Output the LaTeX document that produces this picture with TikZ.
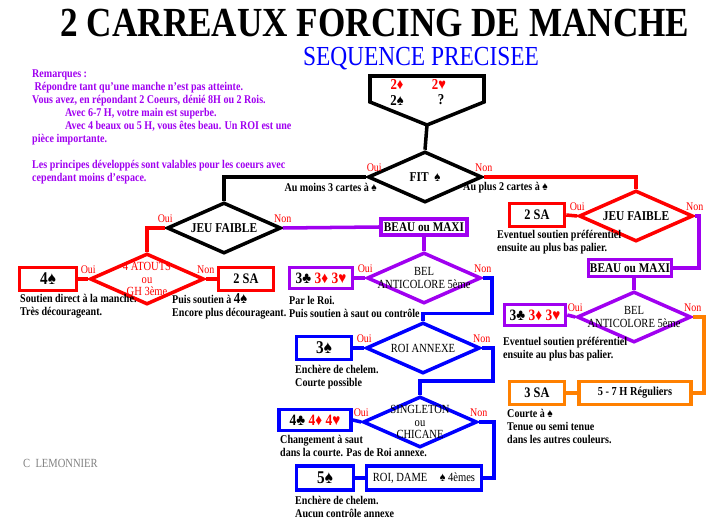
\documentclass[tikz,border=0pt]{standalone}
\usepackage{fontspec}
\setmainfont[FakeStretch=0.85]{Liberation Serif}
\usepackage{tikz}
\usetikzlibrary{shapes.geometric,positioning,calc}
\definecolor{CarRouge}{HTML}{FF0000}
\definecolor{CarViolet}{HTML}{A000F0}
\definecolor{CarBleu}{HTML}{0000FF}
\definecolor{CarOrange}{HTML}{FF8000}
\definecolor{CarGris}{HTML}{808080}
\newcommand{\pique}{♠}
\newcommand{\trefle}{♣}
\newcommand{\carreau}{♦}
\newcommand{\coeur}{♥}

\begin{document}
\begin{tikzpicture}[x=0.3mm, y=-0.3mm,
  every node/.style={font=\bfseries\fontsize{10.1}{11}\selectfont},
  boite/.style={draw, line width=3pt, fill=white, inner sep=1pt, align=center,
                minimum width=16.5mm, minimum height=6.9mm, font=\bfseries\fontsize{12.4}{13}\selectfont},
  carte/.style={boite, font=\bfseries\fontsize{15.3}{16}\selectfont},
  triple/.style={boite, minimum height=6.3mm, font=\bfseries\fontsize{13.5}{14}\selectfont},
  losange/.style={diamond, draw, line width=3pt, inner sep=0pt,
                  minimum width=34.2mm, minimum height=15.3mm},
  dtxt/.style={align=center, inner sep=0pt, font=\fontsize{10.6}{10.6}\selectfont},
  dgras/.style={dtxt, font=\bfseries\fontsize{11.5}{12}\selectfont},
  note/.style={anchor=north west, align=left, inner sep=0pt},
  oui/.style={text=CarRouge, anchor=south, inner sep=0pt, yshift=1.5mm, font=\fontsize{10}{10}\selectfont},
  enchere/.style={font=\bfseries\fontsize{12.9}{13}\selectfont},
  lien/.style={line width=3pt},
]
\useasboundingbox (0,0) rectangle (725,525);

\node[anchor=base, font=\bfseries\fontsize{35.3}{36}\selectfont] (titre) at (375,37) {2 CARREAUX FORCING DE MANCHE};
\node[anchor=base, text=CarBleu, font=\fontsize{23.5}{24}\selectfont] (soustitre) at (421,66) {SEQUENCE PRECISEE};

\node[note, text=CarViolet] (remarques) at (32,70) {Remarques :\\
  \hspace*{2pt}Répondre tant qu'une manche n'est pas atteinte.\\
  Vous avez, en répondant 2 Coeurs, dénié 8H ou 2 Rois.\\
  \hspace*{28pt}Avec 6-7 H, votre main est superbe.\\
  \hspace*{28pt}Avec 4 beaux ou 5 H, vous êtes beau. Un ROI est une\\
  pièce importante.\\[11pt]
  Les principes développés sont valables pour les coeurs avec\\
  cependant moins d'espace.};

\coordinate (depart) at (427,125);
\draw[lien] (370,76) -- (484,76) -- (484,102) -- (depart) -- (370,102) -- cycle;
\node[enchere, text=CarRouge] (ouv1) at (397,85) {2\carreau};
\node[enchere, text=CarRouge] (ouv2) at (439,85) {2\coeur};
\node[enchere] (rep1) at (397,100) {2\pique};
\node[enchere] (rep2) at (441,100) {?};

\node[losange, label={[dgras]center:FIT\ \ \pique}] (fit) at (425,177) {};
\node[losange, label={[dgras]center:JEU FAIBLE}] (jf1) at (224,228) {};
\node[losange, label={[dgras]center:JEU FAIBLE}, draw=CarRouge] (jf2) at (636,216) {};
\node[losange, label={[dtxt, text=CarRouge]center:4 ATOUTS\\ou\\GH 3ème}, draw=CarRouge] (a4) at (147,279) {};
\node[losange, label={[dtxt]center:BEL\\ANTICOLORE 5ème}, draw=CarViolet] (bel1) at (424,278) {};
\node[losange, label={[dtxt]center:BEL\\ANTICOLORE 5ème}, draw=CarViolet] (bel2) at (634,317) {};
\node[losange, label={[dtxt]center:ROI ANNEXE}, draw=CarBleu] (roi) at (423,348) {};
\node[losange, label={[dtxt]center:SINGLETON\\ou\\CHICANE}, draw=CarBleu] (sing) at (420,422) {};

\node[carte, draw=CarRouge, minimum width=17.1mm] (s4) at (48,279) {4\pique};
\node[boite, draw=CarRouge] (sa1) at (246,279) {2 SA};
\node[boite, draw=CarRouge] (sa2) at (537,215) {2 SA};
\node[boite, draw=CarViolet, minimum width=25.8mm, minimum height=4.8mm,
      font=\bfseries\fontsize{11.3}{12}\selectfont] (bm1) at (424,227) {BEAU ou MAXI};
\node[boite, draw=CarViolet, minimum width=24.9mm, minimum height=5.1mm,
      font=\bfseries\fontsize{11.3}{12}\selectfont] (bm2) at (630,268) {BEAU ou MAXI};
\node[triple, draw=CarViolet, minimum width=18.9mm] (c3a) at (321,278) {3\trefle\ \textcolor{CarRouge}{3\carreau\ 3\coeur}};
\node[triple, draw=CarViolet, minimum width=18.3mm] (c3b) at (535,315) {3\trefle\ \textcolor{CarRouge}{3\carreau\ 3\coeur}};
\node[carte, draw=CarBleu] (s3) at (324,348) {3\pique};
\node[triple, draw=CarBleu, minimum width=21.6mm] (c4) at (315,420) {4\trefle\ \textcolor{CarRouge}{4\carreau\ 4\coeur}};
\node[carte, draw=CarBleu, minimum width=17.1mm, minimum height=7.2mm] (s5) at (325,478) {5\pique};
\node[boite, draw=CarBleu, minimum width=34.5mm, minimum height=7.2mm,
      font=\fontsize{10.6}{11}\selectfont] (rd) at (424,478) {ROI, DAME\quad\pique\ 4èmes};
\node[boite, draw=CarOrange] (sa3) at (537,393) {3 SA};
\node[boite, draw=CarOrange, minimum width=33.6mm,
      font=\bfseries\fontsize{10.4}{11}\selectfont] (r57) at (635,393) {5 - 7 H Réguliers};

\node[oui, xshift=2.4mm] (fitoui) at (fit.west) {Oui};
\node[oui] (fitnon) at (fit.east) {Non};
\node[oui] (jf1oui) at (jf1.west) {Oui};
\node[oui] (jf1non) at (jf1.east) {Non};
\node[oui] (jf2oui) at (jf2.west) {Oui};
\node[oui] (jf2non) at (jf2.east) {Non};
\node[oui] (a4oui) at (a4.west) {Oui};
\node[oui] (a4non) at (a4.east) {Non};
\node[oui] (bel1oui) at (bel1.west) {Oui};
\node[oui] (bel1non) at (bel1.east) {Non};
\node[oui] (bel2oui) at (bel2.west) {Oui};
\node[oui] (bel2non) at (bel2.east) {Non};
\node[oui] (roioui) at (roi.west) {Oui};
\node[oui] (roinon) at (roi.east) {Non};
\node[oui] (singoui) at (sing.west) {Oui};
\node[oui] (singnon) at (sing.east) {Non};

\node[anchor=north east, inner sep=0pt] (moins) at (377,183) {Au moins 3 cartes à \pique};
\node[note] (plus) at (463,182) {Au plus 2 cartes à \pique};
\node[note] (n4s) at (20,294) {Soutien direct à la manche.\\Très décourageant.};
\node[note] (nsa1) at (172,293) {Puis soutien à {\fontsize{12.9}{13}\selectfont 4\pique}\\Encore plus décourageant.};
\node[note] (nc3a) at (289,296) {Par le Roi.\\Puis soutien à saut ou contrôle};
\node[note] (nsa2) at (497,230) {Eventuel soutien préférentiel\\ensuite au plus bas palier.};
\node[note] (nc3b) at (503,337) {Eventuel soutien préférentiel\\ensuite au plus bas palier.};
\node[note] (nsa3) at (507,409) {Courte à \pique\\Tenue ou semi tenue\\dans les autres couleurs.};
\node[note] (ns3) at (295,365) {Enchère de chelem.\\Courte possible};
\node[note] (nc4) at (280,435) {Changement à saut\\dans la courte. Pas de Roi annexe.};
\node[note] (ns5) at (295,496) {Enchère de chelem.\\Aucun contrôle annexe};
\node[anchor=west, inner sep=0pt, text=CarGris, font=\fontsize{10.6}{11}\selectfont] (auteur) at (23,463) {C~~LEMONNIER};

\draw[lien] (depart) -- (fit.north);
\draw[lien] (fit.west) -| (jf1.north);
\draw[lien, CarRouge] (fit.east) -| (jf2.north);
\draw[lien, CarRouge] (jf2.west) -- (sa2.east);
\draw[lien, CarViolet] (jf2.east) -- ++(4,0) |- (bm2.east);
\draw[lien, CarViolet] (bel2.north) -- (bel2.north |- bm2.south);
\draw[lien, CarViolet] (bel2.west) -- (c3b.east);
\draw[lien, CarOrange] (bel2.east) -- ++(11,0) |- (r57.east);
\draw[lien, CarOrange] (r57.west) -- (sa3.east);
\draw[lien, CarRouge] (jf1.west) -| (a4.north);
\draw[lien, CarRouge] (a4.west) -- (s4.east);
\draw[lien, CarRouge] (a4.east) -- (sa1.west);
\draw[lien, CarViolet] (jf1.east) -- (bm1.west);
\draw[lien, CarViolet] (bm1.south) -- (bel1.north);
\draw[lien, CarViolet] (bel1.west) -- (c3a.east);
\draw[lien, CarBleu] (bel1.east) -- ++(9,0) |- ($(roi.north)+(0,-7)$) -- (roi.north);
\draw[lien, CarBleu] (roi.west) -- (s3.east);
\draw[lien, CarBleu] (roi.east) -- ++(11,0) |- ($(sing.north)+(0,-14)$) -- (sing.north);
\draw[lien, CarBleu] (sing.west) -- (c4.east);
\draw[lien, CarBleu] (sing.east) -- ++(15,0) |- (rd.east);
\draw[lien, CarBleu] (rd.west) -- (s5.east);
\end{tikzpicture}
\end{document}
